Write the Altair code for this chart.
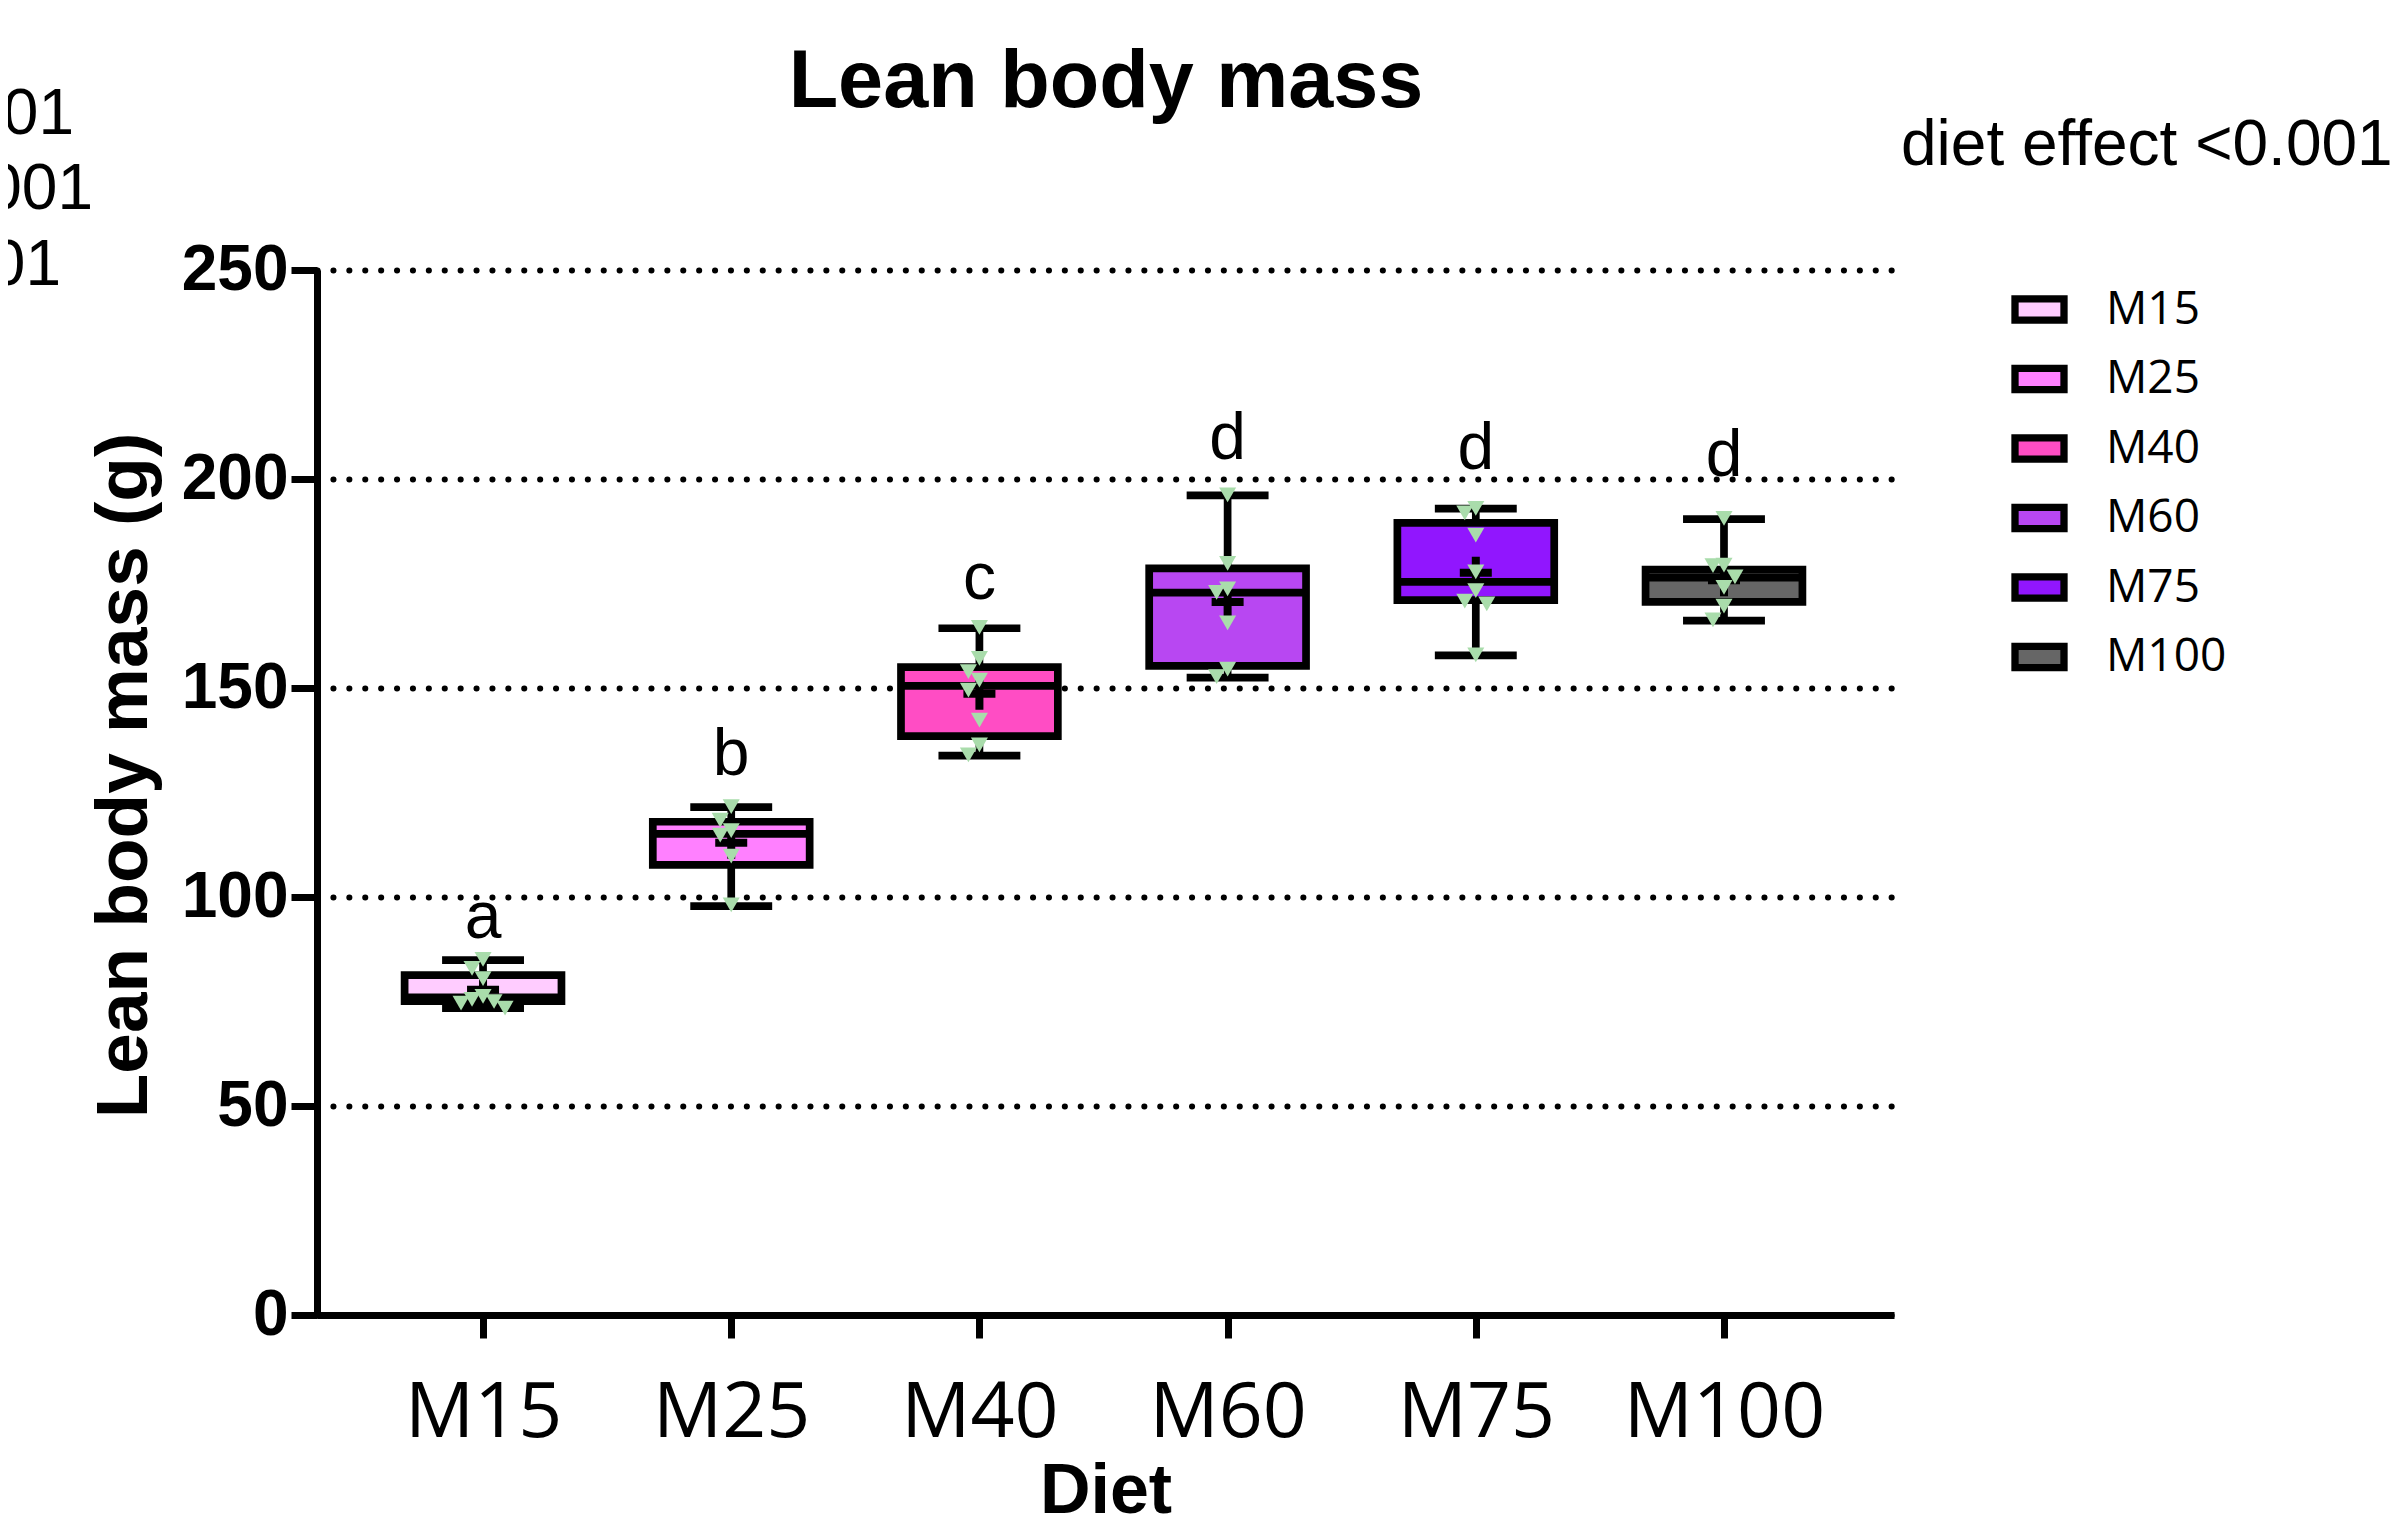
import altair as alt
import pandas as pd

# ---------------- data ----------------
diets = ["M15", "M25", "M40", "M60", "M75", "M100"]
colors = ["#FFCCFF", "#FF80FF", "#FF4DC4", "#B847F2", "#9116FE", "#666666"]
letters = ["a", "b", "c", "d", "d", "d"]
letter_y = [90.2, 129.2, 171.3, 204.8, 202.4, 200.7]

box_min = [73.4, 97.8, 133.8, 152.5, 157.8, 166.1]
box_q1 = [75.1, 107.7, 138.5, 155.3, 171.0, 170.6]
box_median = [76.0, 115.1, 150.5, 172.8, 175.4, 176.4]
box_q3 = [81.3, 118.0, 155.0, 178.6, 189.5, 178.3]
box_max = [84.9, 121.5, 164.3, 196.1, 192.9, 190.4]
box_mean = [77.8, 113.0, 148.6, 170.6, 177.6, 175.8]

pts_M15 = [85.1, 82.9, 80.5, 76.2, 75.5, 75.0, 74.6, 73.4]
pts_M25 = [121.6, 118.4, 115.9, 114.8, 109.8, 98.1]
pts_M40 = [164.5, 157.1, 153.9, 151.9, 149.5, 142.3, 136.4, 134.0]
pts_M60 = [196.2, 179.8, 173.7, 172.9, 165.6, 154.5, 152.7]
pts_M75 = [193.0, 191.9, 186.6, 177.8, 173.3, 170.8, 170.1, 157.9]
pts_M100 = [190.6, 179.4, 179.3, 176.6, 174.1, 169.6, 166.3]
points_by_diet = [pts_M15, pts_M25, pts_M40, pts_M60, pts_M75, pts_M100]

y_ticks = [0, 50, 100, 150, 200, 250]

# ---------------- layout constants ----------------
PLOT_W, PLOT_H = 1577, 1045
X_DOMAIN = [0.331, 6.685]
PX_PER_UNIT = PLOT_W / (X_DOMAIN[1] - X_DOMAIN[0])
BOX_HALF = 0.316
CAP_HALF = 0.165
SWARM_STEP = 11 / PX_PER_UNIT
LINE_W = 7.7
FONT = "Liberation Sans"


def swarm(values, thresh=3.4):
    order = sorted(range(len(values)), key=lambda i: -values[i])
    placed = []
    slots = [0] * len(values)
    cand = [0, -1, 1, -2, 2, -3, 3, -4, 4]
    for i in order:
        v = values[i]
        for c in cand:
            if all(abs(v - pv) >= thresh for pv, ps in placed if ps == c):
                slots[i] = c
                placed.append((v, c))
                break
    return slots


summary = pd.DataFrame({
    "diet": diets,
    "pos": list(range(1, len(diets) + 1)),
    "min": box_min, "q1": box_q1, "median": box_median,
    "q3": box_q3, "max": box_max, "mean": box_mean,
    "letter": letters, "letter_y": letter_y,
})
summary["box_l"] = summary["pos"] - BOX_HALF
summary["box_r"] = summary["pos"] + BOX_HALF
summary["cap_l"] = summary["pos"] - CAP_HALF
summary["cap_r"] = summary["pos"] + CAP_HALF

rows = []
for k, (d, vals) in enumerate(zip(diets, points_by_diet)):
    slots = swarm(vals)
    for v, s in zip(vals, slots):
        rows.append({"diet": d, "value": v, "xp": k + 1 + s * SWARM_STEP})
points = pd.DataFrame(rows)

label_js = "[" + ",".join("'" + d + "'" for d in diets) + "]"

x_scale = alt.Scale(domain=X_DOMAIN, nice=False, zero=False)
y_scale = alt.Scale(domain=[0, 250], nice=False, zero=True)

x_axis = alt.Axis(
    values=list(range(1, len(diets) + 1)),
    labelExpr=label_js + "[datum.value - 1]",
    labelFont="Open Sans", labelFontSize=77, labelColor="black",
    labelPadding=37, labelLimit=0, labelOverlap=False, labelFlush=False,
    tickSize=23, tickWidth=7, tickColor="black",
    domainWidth=7, domainColor="black", grid=False,
    title="Diet", titleFont=FONT, titleFontWeight="bold",
    titleFontSize=70, titleColor="black", titlePadding=6,
)
y_axis = alt.Axis(
    values=y_ticks,
    labelFont=FONT, labelFontWeight="bold", labelFontSize=64,
    labelColor="black", labelPadding=3,
    tickSize=26, tickWidth=7, tickColor="black",
    domainWidth=7, domainColor="black",
    grid=True, gridDash=[0.1, 15.8], gridCap="round", gridWidth=6,
    gridColor="black",
    title="Lean body mass (g)", titleFont=FONT, titleFontWeight="bold",
    titleFontSize=73, titleColor="black", titlePadding=20, titleY=505,
)

def X(field):
    return alt.X(field, type="quantitative", scale=x_scale, axis=x_axis)

def Y(field):
    return alt.Y(field, type="quantitative", scale=y_scale, axis=y_axis)

base = alt.Chart(summary)

whisker = base.mark_rule(color="black", strokeWidth=LINE_W, strokeCap="butt").encode(
    x=X("pos"), y=Y("min"), y2="max")
cap_min = base.mark_rule(color="black", strokeWidth=LINE_W, strokeCap="butt").encode(
    x=X("cap_l"), x2="cap_r", y=Y("min"))
cap_max = base.mark_rule(color="black", strokeWidth=LINE_W, strokeCap="butt").encode(
    x=X("cap_l"), x2="cap_r", y=Y("max"))

legend_symbol = "M-1,-0.43L1,-0.43L1,0.43L-1,0.43Z"
box = base.mark_bar(stroke="black", strokeWidth=LINE_W, opacity=1).encode(
    x=X("box_l"), x2="box_r", y=Y("q1"), y2="q3",
    fill=alt.Fill("diet:N", scale=alt.Scale(domain=diets, range=colors),
                  sort=diets,
                  legend=alt.Legend(
                      title=None, orient="none", legendX=1694, legendY=11,
                      padding=0, symbolType=legend_symbol, symbolSize=2401,
                      symbolStrokeColor="black", symbolStrokeWidth=7.3,
                      symbolOpacity=1,
                      labelFont="Open Sans", labelFontSize=46, labelColor="black",
                      labelOffset=38, rowPadding=15.5, labelLimit=0,
                  )))
median = base.mark_rule(color="black", strokeWidth=LINE_W, strokeCap="butt").encode(
    x=X("box_l"), x2="box_r", y=Y("median"))
mean = base.mark_point(shape="M-1,0L1,0M0,-1L0,1", size=1024, filled=False,
                       stroke="black", strokeWidth=8, opacity=1,
                       strokeCap="butt").encode(x=X("pos"), y=Y("mean"))
dots = alt.Chart(points).mark_point(shape="triangle-down", size=290, filled=True,
                                    fill="#A9DCAB", strokeWidth=0, opacity=1).encode(
    x=X("xp"), y=Y("value"))
letter_marks = base.mark_text(font=FONT, fontSize=66, color="black",
                              baseline="alphabetic", align="center").encode(
    x=X("pos"), y=Y("letter_y"), text="letter:N")

one = pd.DataFrame({"k": [0]})
def note(text, x, y, size, weight="normal", align="left"):
    return alt.Chart(one).mark_text(
        text=text, font=FONT, fontSize=size, fontWeight=weight, color="black",
        align=align, baseline="alphabetic").encode(x=alt.value(x), y=alt.value(y))

title = note("Lean body mass", 789, -163, 81, "bold", "center")
diet_note = note("diet effect <0.001", 1584, -105, 64)
left1 = note("001", -243, -136, 64, align="right")
left2 = note("001", -224, -61, 64, align="right")
left3 = note("01", -256, 15, 64, align="right")

chart = alt.layer(
    whisker, cap_min, cap_max, box, median, mean, dots, letter_marks,
    title, diet_note, left1, left2, left3,
).properties(
    width=PLOT_W, height=PLOT_H,
    autosize=alt.AutoSizeParams(type="none"),
    padding={"left": 309, "top": 262, "right": 499, "bottom": 214},
    background="white",
).configure_view(stroke=None)

chart.save("out.html", embed_options={"renderer": "svg", "actions": False})
